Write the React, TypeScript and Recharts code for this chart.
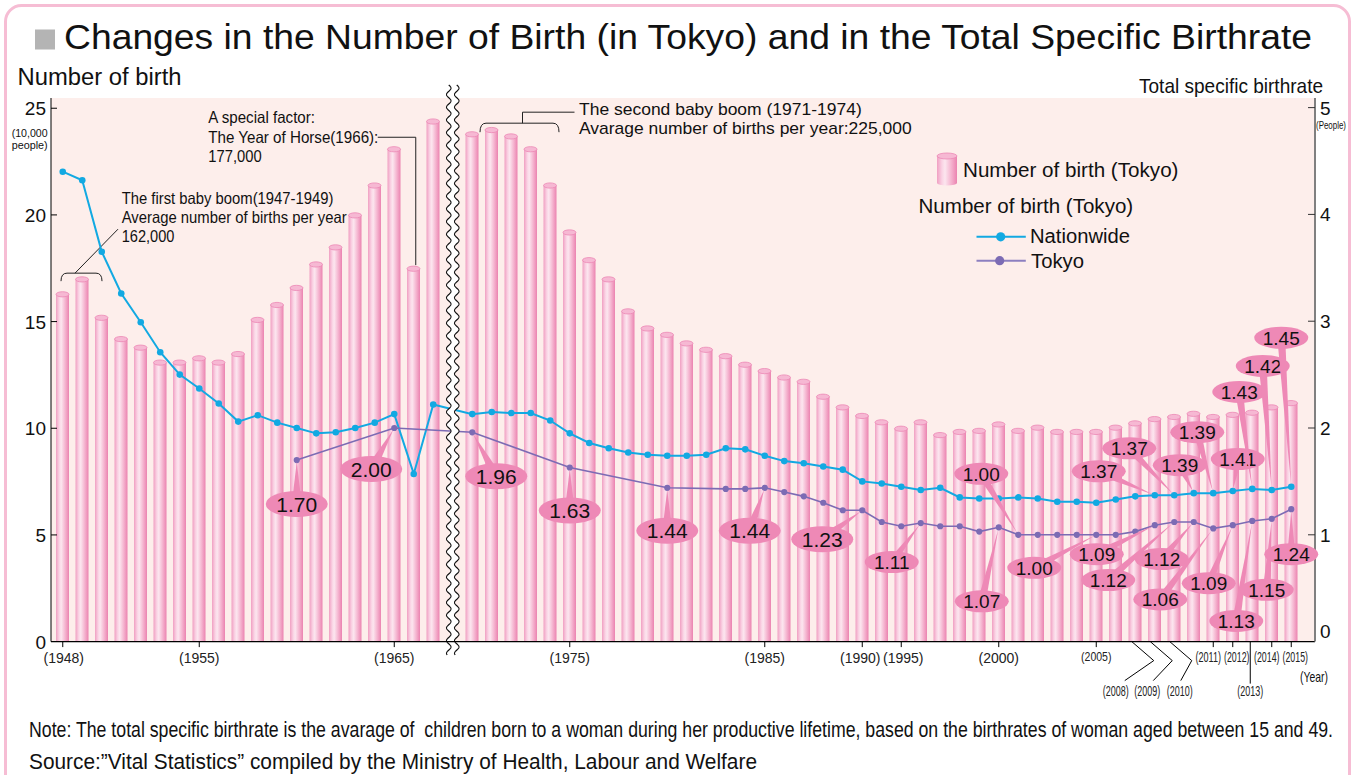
import React from "react";
import {
  ComposedChart,
  Bar,
  Line,
  XAxis,
  YAxis,
  CartesianGrid,
  ReferenceLine,
  ReferenceArea,
  LabelList,
} from "recharts";

const FONT = '"Liberation Sans", Arial, Helvetica, sans-serif';

// one slot per bar; "break" is the gap drawn with the wavy mark
const years = [
  "1948", "1949", "1950", "1951", "1952", "1953", "1954", "1955", "1956", "1957",
  "1958", "1959", "1960", "1961", "1962", "1963", "1964", "1965", "1966", "1967",
  "break",
  "1970", "1971", "1972", "1973", "1974", "1975", "1976", "1977", "1978", "1979",
  "1980", "1981", "1982", "1983", "1984", "1985", "1986", "1987", "1988", "1989", "1990",
  "1994",
  "1995", "1996", "1997", "1998", "1999", "2000", "2001", "2002", "2003", "2004", "2005",
  "2006", "2007", "2008", "2009", "2010", "2011", "2012", "2013", "2014", "2015",
];

// births in Tokyo, 10,000 people
const birthsTokyo = [
  16.4, 17.1, 15.3, 14.3, 13.9, 13.2, 13.2, 13.4, 13.2, 13.6,
  15.2, 15.9, 16.7, 17.8, 18.6, 20.1, 21.5, 23.2, 17.6, 24.5,
  null,
  23.9, 24.1, 23.8, 23.2, 21.5, 19.3, 18.0, 17.1, 15.6, 14.8,
  14.5, 14.1, 13.8, 13.5, 13.1, 12.8, 12.5, 12.3, 11.6, 11.1, 10.7,
  10.4,
  10.1, 10.4, 9.8, 9.95, 10.0, 10.3, 10.0, 10.15, 9.95, 9.95, 9.95,
  10.15, 10.35, 10.55, 10.65, 10.8, 10.65, 10.75, 10.85, 11.1, 11.3,
];

// total specific birthrate
const rateNationwide = [
  4.4, 4.32, 3.65, 3.26, 2.99, 2.71, 2.5, 2.37, 2.23, 2.06,
  2.12, 2.05, 2.0, 1.95, 1.96, 2.0, 2.05, 2.13, 1.57, 2.22,
  null,
  2.13, 2.15, 2.14, 2.14, 2.07, 1.95, 1.86, 1.81, 1.77, 1.75,
  1.74, 1.74, 1.75, 1.81, 1.8, 1.74, 1.69, 1.67, 1.64, 1.61, 1.5,
  1.48,
  1.45, 1.42, 1.44, 1.35, 1.34, 1.34, 1.35, 1.34, 1.31, 1.31, 1.3,
  1.33, 1.36, 1.37, 1.37, 1.39, 1.39, 1.41, 1.43, 1.42, 1.45,
];

const rateTokyo = [
  null, null, null, null, null, null, null, null, null, null,
  null, null, 1.7, null, null, null, null, 2.0, null, null,
  null,
  1.96, null, null, null, null, 1.63, null, null, null, null,
  1.44, null, null, 1.43, 1.43, 1.44, 1.4, 1.36, 1.3, 1.23, 1.23,
  1.12,
  1.08, 1.11, 1.08, 1.08, 1.03, 1.07, 1.0, 1.0, 1.0, 1.0, 1.0,
  1.0, 1.03, 1.09, 1.12, 1.12, 1.06, 1.09, 1.13, 1.15, 1.24,
];

const labelledYears = [
  "1948", "1955", "1965", "1975", "1985", "1990", "1995", "2000",
  "2005", "2008", "2009", "2010", "2011", "2012", "2013", "2014", "2015",
];

const rows = years.map((year, i) => ({
  year,
  births: birthsTokyo[i],
  nationwide: rateNationwide[i],
  tokyo: rateTokyo[i],
}));

// balloon placement relative to its point: [dx, dy, big]
const tokyoBalloons: Record<string, [number, number, boolean]> = {
  "1960": [0, 44, true],
  "1965": [-23, 41, true],
  "1970": [24, 44, true],
  "1975": [0, 43, true],
  "1980": [0, 43, true],
  "1985": [-15, 43, true],
  "1990": [-40, 29, true],
  "1996": [-29, 39, false],
  "2000": [-17, 74, false],
  "2001": [-37, -61, false],
  "2005": [-62, 33, false],
  "2008": [-58, 29, false],
  "2009": [-66, 58, false],
  "2010": [-32, 37, false],
  "2011": [-53, 71, false],
  "2012": [-24, 58, false],
  "2013": [-16, 100, false],
  "2014": [-5, 71, false],
  "2015": [0, 45, false],
};

const nationwideBalloons: Record<string, [number, number, boolean]> = {
  "2008": [-56, -24, false],
  "2009": [-45, -47, false],
  "2010": [-14, -28, false],
  "2011": [-16, -61, false],
  "2012": [5, -32, false],
  "2013": [-13, -97, false],
  "2014": [-9, -124, false],
  "2015": [-10, -149, false],
};

const BALLOON = "#EE89B6";

function makeBalloon(layout: Record<string, [number, number, boolean]>) {
  return function BalloonLabel(p: any) {
    const year = years[p.index];
    const spec = layout[year];
    if (!spec || p.value == null) return null;
    const px = Number(p.x ?? p.viewBox?.x);
    const py = Number(p.y ?? p.viewBox?.y);
    const [dx, dy, big] = spec;
    const cx = px + dx;
    const cy = py + dy;
    const rx = big ? 31 : 27;
    const ry = big ? 13 : 11;
    const ang = Math.atan2(py - cy, px - cx);
    const hw = big ? 5 : 4;
    const nx = -Math.sin(ang) * hw;
    const ny = Math.cos(ang) * hw;
    const tx = px - Math.cos(ang) * 2;
    const ty = py - Math.sin(ang) * 2;
    const fs = big ? 21 : 19;
    return (
      <g>
        <polygon
          points={`${cx + nx},${cy + ny} ${cx - nx},${cy - ny} ${tx},${ty}`}
          fill={BALLOON}
        />
        <ellipse cx={cx} cy={cy} rx={rx} ry={ry} fill={BALLOON} />
        <text
          x={cx}
          y={cy + fs * 0.36}
          textAnchor="middle"
          fontSize={fs}
          fill="#111"
          fontFamily={FONT}
        >
          {Number(p.value).toFixed(2)}
        </text>
      </g>
    );
  };
}

function Cylinder(props: any) {
  const { x, y, width, height } = props;
  if (!height || height <= 0 || x == null) return <g />;
  const ry = 2.6;
  return (
    <g>
      <rect x={x} y={y + ry} width={width} height={Math.max(0, height - ry)} fill="url(#cylBody)" />
      <ellipse
        cx={x + width / 2}
        cy={y + ry}
        rx={width / 2}
        ry={ry}
        fill="#F6B8D3"
        stroke="#EC88B5"
        strokeWidth={0.8}
      />
    </g>
  );
}

type TickSpec = {
  kind: "big" | "mid" | "small" | "zig" | "drop";
  dx?: number;
  start?: number;
  mid?: number;
  end?: number;
  label?: number;
};

const tickLayout: Record<string, TickSpec> = {
  "1948": { kind: "big", dx: 1 },
  "1955": { kind: "big" },
  "1965": { kind: "big" },
  "1975": { kind: "big" },
  "1985": { kind: "big" },
  "1990": { kind: "big", dx: -2 },
  "1995": { kind: "big", dx: 2 },
  "2000": { kind: "big" },
  "2005": { kind: "mid" },
  "2008": { kind: "zig", start: -23, mid: -1, end: -30, label: -39 },
  "2009": { kind: "zig", start: -24, mid: -2, end: -21, label: -27 },
  "2010": { kind: "zig", start: -24, mid: -2, end: -13, label: -14 },
  "2011": { kind: "small", dx: -5 },
  "2012": { kind: "small", dx: 4 },
  "2013": { kind: "drop" },
  "2014": { kind: "small", dx: -5 },
  "2015": { kind: "small", dx: 4 },
};

function YearTick(props: any) {
  const { x, y, payload } = props;
  const v = String(payload.value);
  if (!labelledYears.includes(v)) return <g />;
  const spec = tickLayout[v];
  const label = `(${v})`;
  const ink = "#222";
  const lx = x + (spec.dx || 0);
  if (spec.kind === "big") {
    return (
      <g>
        <line x1={x} x2={x} y1={y} y2={y + 5.5} stroke="#000" />
        <text x={lx} y={y + 21.5} textAnchor="middle" fontSize={14} fill={ink}>
          {label}
        </text>
      </g>
    );
  }
  if (spec.kind === "mid") {
    return (
      <g>
        <line x1={x} x2={x} y1={y} y2={y + 5.5} stroke="#000" />
        <text x={lx} y={y + 19} textAnchor="middle" fontSize={12} fill={ink}
          textLength={30.5} lengthAdjust="spacingAndGlyphs">
          {label}
        </text>
      </g>
    );
  }
  if (spec.kind === "small") {
    return (
      <g>
        <line x1={x} x2={x} y1={y} y2={y + 5.5} stroke="#000" />
        <text x={lx} y={y + 20} textAnchor="middle" fontSize={15} fill={ink}
          textLength={25.5} lengthAdjust="spacingAndGlyphs">
          {label}
        </text>
      </g>
    );
  }
  if (spec.kind === "zig") {
    return (
      <g>
        <polyline
          points={`${x + (spec.start || 0)},${y} ${x + (spec.mid || 0)},${y + 19} ${x + (spec.end || 0)},${y + 39}`}
          fill="none"
          stroke="#000"
        />
        <text x={x + (spec.label || 0)} y={y + 54} textAnchor="middle" fontSize={15} fill={ink}
          textLength={26} lengthAdjust="spacingAndGlyphs">
          {label}
        </text>
      </g>
    );
  }
  return (
    <g>
      <line x1={x - 2} x2={x - 2} y1={y} y2={y + 42} stroke="#000" />
      <text x={x - 2} y={y + 54} textAnchor="middle" fontSize={15} fill={ink}
        textLength={26} lengthAdjust="spacingAndGlyphs">
        {label}
      </text>
    </g>
  );
}

function LeftTick(props: any) {
  const { x, y, payload } = props;
  const v = payload.value;
  return (
    <g>
      {v !== 0 && <line x1={x} x2={x + 6} y1={y} y2={y} stroke="#000" />}
      <text x={x - 5} y={y + 7} textAnchor="end" fontSize={19} fill="#111">
        {v}
      </text>
    </g>
  );
}

function RightTick(props: any) {
  const { x, y, payload } = props;
  const v = payload.value;
  return (
    <g>
      {v !== 0 && <line x1={x - 7} x2={x} y1={y} y2={y} stroke="#333" />}
      <text x={x + 5} y={v === 0 ? y - 4 : y + 7} textAnchor="start" fontSize={19} fill="#111">
        {v}
      </text>
    </g>
  );
}

function BreakMark(props: any) {
  const { x1, y1, y2 } = props;
  if (x1 == null) return <g />;
  const top = Math.min(y1, y2) - 13;
  const bottom = Math.max(y1, y2) + 14;
  const left: string[] = [];
  const right: string[] = [];
  for (let yy = top; yy <= bottom; yy += 1) {
    const off = 2.3 * Math.sin(((yy - top) * 2 * Math.PI) / 12.7);
    left.push(`${(x1 - 4 + off).toFixed(2)},${yy.toFixed(1)}`);
    right.push(`${(x1 + 4 + off).toFixed(2)},${yy.toFixed(1)}`);
  }
  return (
    <g>
      <polygon points={[...left, ...[...right].reverse()].join(" ")} fill="#fff" />
      <polyline points={left.join(" ")} fill="none" stroke="#111" strokeWidth={1.1} />
      <polyline points={right.join(" ")} fill="none" stroke="#111" strokeWidth={1.1} />
    </g>
  );
}

function FirstBoomBracket(props: any) {
  const { x, y, width } = props;
  const l = x + 8;
  const r = x + width + 10;
  return (
    <g fill="none" stroke="#222" strokeWidth={1}>
      <path d={`M${l},${y + 8} Q${l},${y} ${l + 6},${y} H${r - 6} Q${r},${y} ${r},${y + 8}`} />
      <path d={`M${l + 14},${y} L${l + 57},${y - 44}`} />
    </g>
  );
}

function SecondBoomBracket(props: any) {
  const { x, y, width } = props;
  const l = x - 2;
  const r = x + width - 1;
  const m = (l + r) / 2 + 3;
  return (
    <g fill="none" stroke="#222" strokeWidth={1}>
      <path d={`M${l},${y + 9} Q${l},${y} ${l + 6},${y} H${r - 6} Q${r},${y} ${r},${y + 9}`} />
      <path d={`M${m},${y} V${y - 11} H${m + 52}`} />
    </g>
  );
}

function HorseLeader(props: any) {
  const { x, y, width, height } = props;
  const cx = x + width / 2 + 2;
  return (
    <path
      d={`M${cx},${y + height - 1} V${y} H${cx - 38}`}
      fill="none"
      stroke="#222"
      strokeWidth={1}
    />
  );
}

function Txt(props: any) {
  const { x, y, size, w, anchor, children } = props;
  return (
    <text
      x={x}
      y={y}
      fontSize={size}
      textLength={w}
      lengthAdjust="spacingAndGlyphs"
      textAnchor={anchor || "start"}
      fill="#111"
      fontFamily={FONT}
      style={{ whiteSpace: "pre" }}
    >
      {children}
    </text>
  );
}

export default function App() {
  return (
    <div
      style={{
        position: "absolute",
        left: 0,
        top: 0,
        width: 1353,
        height: 775,
        background: "#fff",
        overflow: "hidden",
        fontFamily: FONT,
      }}
    >
      <svg width={0} height={0} style={{ position: "absolute" }}>
        <defs>
          <linearGradient id="cylBody" x1="0" x2="1" y1="0" y2="0">
            <stop offset="0" stopColor="#F09FC2" />
            <stop offset="0.25" stopColor="#FAD3E4" />
            <stop offset="0.4" stopColor="#FCE6EF" />
            <stop offset="0.7" stopColor="#F5B5D0" />
            <stop offset="1" stopColor="#EB83B0" />
          </linearGradient>
        </defs>
      </svg>

      <ComposedChart
        width={1353}
        height={775}
        data={rows}
        margin={{ top: 98, right: 0, bottom: 73.4, left: 11 }}
        style={{ fontFamily: FONT }}
      >
        <CartesianGrid yAxisId="left" horizontal={false} vertical={false} fill="#FDEEEB" />
        <XAxis
          dataKey="year"
          interval={0}
          tickLine={false}
          tickSize={0}
          tickMargin={0}
          height={60}
          padding={{ left: 2, right: 14 }}
          axisLine={{ stroke: "#000", strokeWidth: 1.3 }}
          tick={(p: any) => <YearTick {...p} />}
        />
        <YAxis
          yAxisId="left"
          domain={[0, 25.48]}
          ticks={[0, 5, 10, 15, 20, 25]}
          width={40}
          tickLine={false}
          tickSize={0}
          tickMargin={0}
          axisLine={{ stroke: "#000" }}
          tick={(p: any) => <LeftTick {...p} />}
        />
        <YAxis
          yAxisId="right"
          orientation="right"
          domain={[0, 5.09]}
          ticks={[0, 1, 2, 3, 4, 5]}
          width={38}
          tickLine={false}
          tickSize={0}
          tickMargin={0}
          axisLine={{ stroke: "#808080", strokeWidth: 2 }}
          tick={(p: any) => <RightTick {...p} />}
        />
        <Bar
          yAxisId="left"
          dataKey="births"
          barSize={13}
          shape={(p: any) => <Cylinder {...p} />}
          isAnimationActive={false}
        />
        <Line
          yAxisId="right"
          dataKey="nationwide"
          type="linear"
          stroke="#12A9E2"
          strokeWidth={2}
          dot={{ r: 3.3, fill: "#12A9E2", stroke: "#12A9E2", strokeWidth: 0 }}
          activeDot={false}
          connectNulls
          isAnimationActive={false}
        >
          <LabelList dataKey="nationwide" content={makeBalloon(nationwideBalloons)} />
        </Line>
        <Line
          yAxisId="right"
          dataKey="tokyo"
          type="linear"
          stroke="#7C6BB4"
          strokeWidth={1.6}
          dot={{ r: 3.1, fill: "#7C6BB4", stroke: "#7C6BB4", strokeWidth: 0 }}
          activeDot={false}
          connectNulls
          isAnimationActive={false}
        >
          <LabelList dataKey="tokyo" content={makeBalloon(tokyoBalloons)} />
        </Line>
        <ReferenceArea
          yAxisId="left"
          x1="1948"
          x2="1949"
          y1={16.9}
          y2={17.27}
          shape={(p: any) => <FirstBoomBracket {...p} />}
        />
        <ReferenceArea
          yAxisId="left"
          x1="1971"
          x2="1974"
          y1={23.86}
          y2={24.3}
          shape={(p: any) => <SecondBoomBracket {...p} />}
        />
        <ReferenceArea
          yAxisId="left"
          x1="1966"
          x2="1966"
          y1={birthsTokyo[years.indexOf("1966")] as number}
          y2={23.64}
          shape={(p: any) => <HorseLeader {...p} />}
        />
        <ReferenceLine
          yAxisId="left"
          x="break"
          shape={(p: any) => <BreakMark {...p} />}
        />
      </ComposedChart>

      <svg
        width={1353}
        height={775}
        style={{ position: "absolute", left: 0, top: 0, pointerEvents: "none" }}
      >
        <rect x={5.5} y={5.5} width={1344} height={840} rx={16} fill="none" stroke="#F6BDD4" strokeWidth={3} />

        <rect x={35} y={29.5} width={20} height={20} fill="#B4B4B4" />
        <Txt x={64} y={48.5} size={35} w={1248}>
          Changes in the Number of Birth (in Tokyo) and in the Total Specific Birthrate
        </Txt>

        <Txt x={17.5} y={85} size={23} w={164}>Number of birth</Txt>
        <Txt x={29.7} y={136.5} size={10.5} w={36} anchor="middle">(10,000</Txt>
        <Txt x={29.7} y={149} size={10.5} w={36} anchor="middle">people)</Txt>

        <Txt x={1139} y={92.6} size={21} w={184}>Total specific birthrate</Txt>
        <Txt x={1316} y={129} size={10} w={30}>(People)</Txt>

        <Txt x={1314} y={682} size={15} w={28} anchor="middle">(Year)</Txt>

        {/* legend */}
        <rect x={937} y={156} width={20} height={27} fill="url(#cylBody)" />
        <ellipse cx={947} cy={183} rx={10} ry={2.5} fill="url(#cylBody)" />
        <ellipse cx={947} cy={156} rx={10} ry={3} fill="#F6B8D3" stroke="#EC88B5" strokeWidth={0.8} />
        <Txt x={963} y={177.4} size={20} w={215.5}>Number of birth (Tokyo)</Txt>
        <Txt x={918.5} y={212.7} size={20} w={214.7}>Number of birth (Tokyo)</Txt>
        <line x1={976.5} x2={1025.8} y1={236.8} y2={236.8} stroke="#12A9E2" strokeWidth={2} />
        <circle cx={1000.7} cy={236.8} r={4.6} fill="#12A9E2" />
        <Txt x={1030} y={243} size={19.5} w={100}>Nationwide</Txt>
        <line x1={976.5} x2={1025.8} y1={260.7} y2={260.7} stroke="#8C7FC0" strokeWidth={2} />
        <circle cx={999.7} cy={260.7} r={4.6} fill="#7C6BB4" />
        <Txt x={1031} y={268} size={19.5} w={53}>Tokyo</Txt>

        {/* annotations */}
        <Txt x={121.7} y={204} size={16.5} w={211.7}>The first baby boom(1947-1949)</Txt>
        <Txt x={121.7} y={223.3} size={16.5} w={225}>Average number of births per year</Txt>
        <Txt x={121.7} y={241.7} size={16.5} w={52.7}>162,000</Txt>

        <Txt x={208.3} y={123.3} size={16.5} w={106.7}>A special factor:</Txt>
        <Txt x={208.3} y={142.7} size={16.5} w={170}>The Year of Horse(1966):</Txt>
        <Txt x={208.3} y={162.3} size={16.5} w={53.3}>177,000</Txt>

        <Txt x={579} y={115} size={17} w={282.7}>The second baby boom (1971-1974)</Txt>
        <Txt x={579} y={134} size={17} w={332.7}>Avarage number of births per year:225,000</Txt>

        {/* notes */}
        <Txt x={29} y={737} size={22} w={1304}>
          Note: The total specific birthrate is the avarage of  children born to a woman during her productive lifetime, based on the birthrates of woman aged between 15 and 49.
        </Txt>
        <Txt x={29} y={769} size={22} w={728}>
          Source:”Vital Statistics” compiled by the Ministry of Health, Labour and Welfare
        </Txt>
      </svg>
    </div>
  );
}
